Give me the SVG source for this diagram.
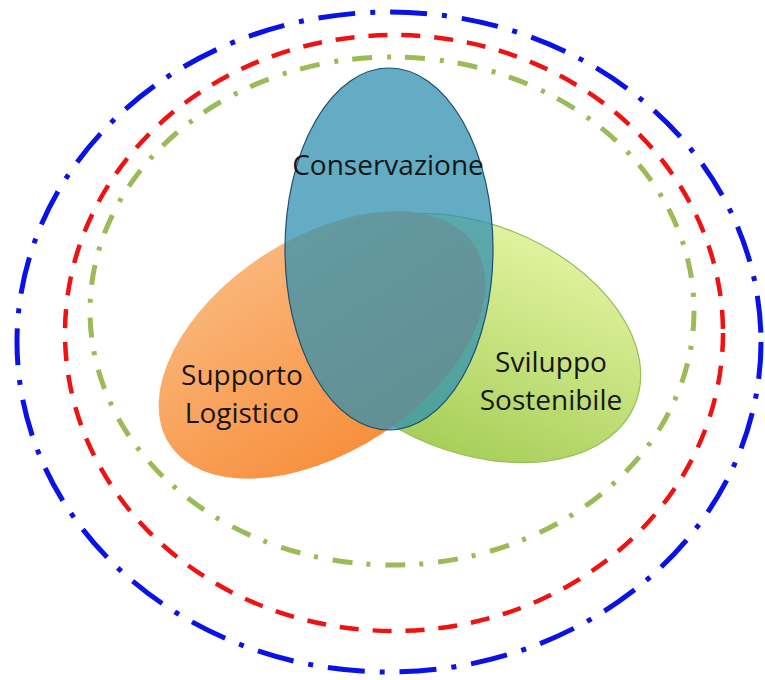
<svg xmlns="http://www.w3.org/2000/svg" width="765" height="680" viewBox="0 0 765 680">
  <defs>
    <linearGradient id="gOrange" x1="0" y1="0" x2="0" y2="1">
      <stop offset="0" stop-color="#FAB578"/>
      <stop offset="1" stop-color="#F7903E"/>
    </linearGradient>
    <linearGradient id="gGreen" x1="0" y1="0" x2="0" y2="1">
      <stop offset="0" stop-color="#E0F29E"/>
      <stop offset="1" stop-color="#A8CF5A"/>
    </linearGradient>
    <style>
      .ring { fill: none; stroke-width: 5; stroke-linecap: butt; }
      .blue { stroke: #0A12E6; stroke-dasharray: 37 15 5 15; }
      .red { stroke: #F01212; stroke-width: 4.5; stroke-dasharray: 19 14; }
      .green { stroke: #9BBB59; stroke-dasharray: 20 15 4 14; }
      .lbl { font-family: "Open Sans", "Liberation Sans", sans-serif; font-size: 28px; fill: #161616; text-anchor: middle; }
    </style>
  </defs>
  <rect width="765" height="680" fill="#FFFFFF"/>

  <g id="rings">
    <ellipse id="ring-outer" class="ring blue" cx="389" cy="342" rx="372" ry="330"/>
    <ellipse id="ring-middle" class="ring red" cx="394" cy="333" rx="329" ry="298"/>
    <ellipse id="ring-inner" class="ring green" cx="392" cy="311" rx="302" ry="254"/>
  </g>

  <g id="node-sviluppo">
    <ellipse cx="472" cy="338" rx="176" ry="114" transform="rotate(22 472 338)" fill="url(#gGreen)" stroke="#9BBB59" stroke-width="1.2"/>
    <text class="lbl" x="551" y="372">Sviluppo</text>
    <text class="lbl" x="551" y="410">Sostenibile</text>
  </g>

  <g id="node-logistico">
    <ellipse cx="322" cy="345" rx="182" ry="107" transform="rotate(-33 322 345)" fill="url(#gOrange)"/>
    <text class="lbl" x="242" y="385">Supporto</text>
    <text class="lbl" x="242" y="423">Logistico</text>
  </g>

  <g id="node-conservazione">
    <ellipse cx="389" cy="249" rx="104" ry="181" fill="#3090B0" fill-opacity="0.75" stroke="#1F4E6E" stroke-width="1.2"/>
    <text class="lbl" x="388" y="175">Conservazione</text>
  </g>

  <g id="connectors"/>
</svg>
